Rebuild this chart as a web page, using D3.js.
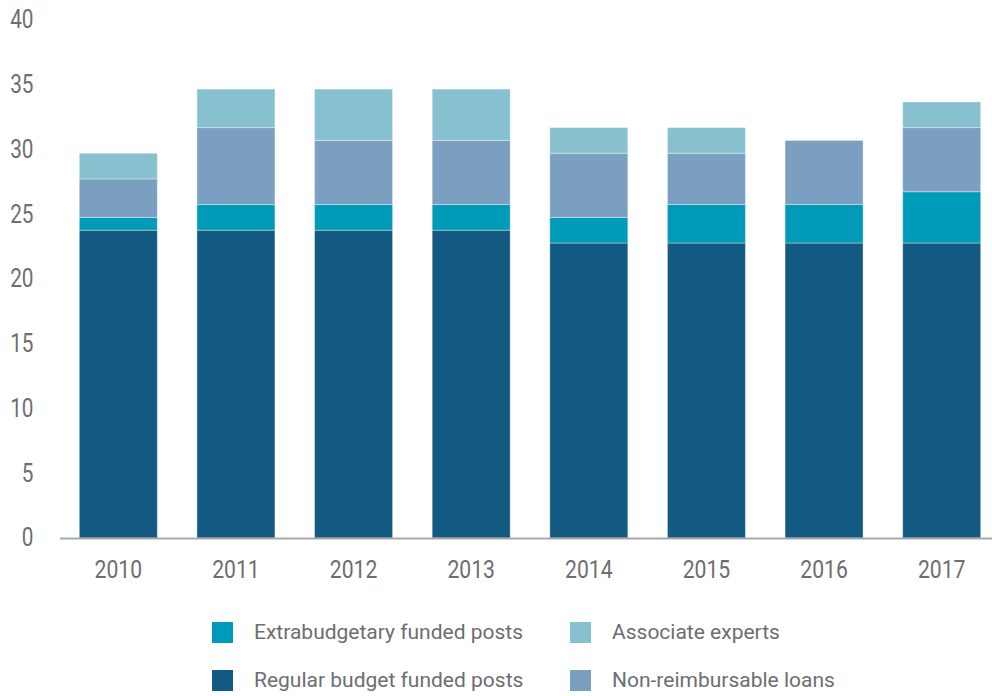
<!DOCTYPE html>
<html>
<head>
<meta charset="utf-8">
<script src="https://cdn.jsdelivr.net/npm/d3@7"></script>
<style>
  body { margin: 0; background: #fff; }
  svg text { font-family: "Roboto", "Liberation Sans", sans-serif; fill: #6d6e71; }
</style>
</head>
<body>
<div class="svg"></div>
<script>
  var d3 = window.d3;
  var w = 992;
  var h = 696;

  // data
  var years = ["2010", "2011", "2012", "2013", "2014", "2015", "2016", "2017"];
  var regular = [24, 24, 24, 24, 23, 23, 23, 23];
  var extrabudgetary = [1, 2, 2, 2, 2, 3, 3, 4];
  var loans = [3, 6, 5, 5, 5, 4, 5, 5];
  var associate = [2, 3, 4, 4, 2, 2, 0, 2];
  var yTicks = [0, 5, 10, 15, 20, 25, 30, 35, 40];

  var seriesKeys = ["regular", "extrabudgetary", "loans", "associate"];
  var seriesNames = {
    regular: "Regular budget funded posts",
    extrabudgetary: "Extrabudgetary funded posts",
    loans: "Non-reimbursable loans",
    associate: "Associate experts"
  };
  var colors = {
    regular: "#135a82",
    extrabudgetary: "#009bb8",
    loans: "#7b9fc0",
    associate: "#87c1cf"
  };

  var rows = years.map(function(y, i) {
    return {
      year: y,
      regular: regular[i],
      extrabudgetary: extrabudgetary[i],
      loans: loans[i],
      associate: associate[i]
    };
  });

  var margin = { top: 25, bottom: 158, left: 59.5, right: -8.5 };
  var width = w - margin.left - margin.right;
  var height = h - margin.top - margin.bottom;

  // condensed look: no narrow face installed, so squeeze the glyphs
  var squeeze = "scale(0.83,1)";

  var svg = d3.select(".svg").append("svg").attr("width", w).attr("height", h);
  var chart = svg.append("g")
    .attr("transform", "translate(" + margin.left + "," + margin.top + ")");

  var xScale = d3.scaleBand().domain(years).range([0, width])
    .paddingInner(0.337).paddingOuter(0.1685);
  var yScale = d3.scaleLinear().domain([0, 40]).range([height, 0]);

  var stack = d3.stack().keys(seriesKeys);
  var layers = stack(rows);

  chart.selectAll(".layer")
    .data(layers)
    .enter()
    .append("g")
    .attr("class", "layer")
    .attr("fill", function(d) { return colors[d.key]; })
    .selectAll("rect")
    .data(function(d) { return d.filter(function(p) { return p[1] - p[0] > 0; }); })
    .enter()
    .append("rect")
    .attr("x", function(d) { return xScale(d.data.year); })
    .attr("width", xScale.bandwidth())
    .attr("y", function(d) { return yScale(d[1]); })
    .attr("height", function(d) { return yScale(d[0]) - yScale(d[1]); })
    .attr("stroke", "#ffffff")
    .attr("stroke-opacity", 0.35)
    .attr("stroke-width", 1);

  // y axis labels (the source labels drift up a little toward the top)
  var yAxis = d3.axisLeft(yScale).tickValues(yTicks).tickSize(0).tickPadding(0);
  var yg = chart.append("g")
    .attr("class", "y axis")
    .attr("transform", "translate(-26,0)")
    .call(yAxis);
  yg.select(".domain").remove();
  yg.selectAll("text")
    .style("font-size", "25px")
    .attr("y", function(d) { return -d * 0.12 - 1; })
    .attr("dy", "0.35em")
    .attr("transform", squeeze);

  // x axis
  var xAxis = d3.axisBottom(xScale).tickSize(0).tickPadding(22);
  var xg = chart.append("g")
    .attr("class", "x axis")
    .attr("transform", "translate(0," + height + ")")
    .call(xAxis);
  xg.select(".domain").attr("stroke", "#a7a9ac").attr("stroke-width", 2);
  xg.selectAll("text")
    .style("font-size", "25.5px")
    .attr("transform", squeeze);

  // legend
  var legendItems = [
    { key: "extrabudgetary", x: 212, y: 622 },
    { key: "associate", x: 570, y: 622 },
    { key: "regular", x: 212, y: 670 },
    { key: "loans", x: 570, y: 670 }
  ];
  var legend = svg.append("g").attr("class", "legend");
  var items = legend.selectAll(".item")
    .data(legendItems)
    .enter()
    .append("g")
    .attr("class", "item")
    .attr("transform", function(d) { return "translate(" + d.x + "," + d.y + ")"; });
  items.append("rect")
    .attr("width", 21)
    .attr("height", 21)
    .attr("fill", function(d) { return colors[d.key]; });
  items.append("text")
    .attr("x", 42)
    .attr("y", 16.5)
    .style("font-size", "21px")
    .text(function(d) { return seriesNames[d.key]; });
</script>
</body>
</html>
